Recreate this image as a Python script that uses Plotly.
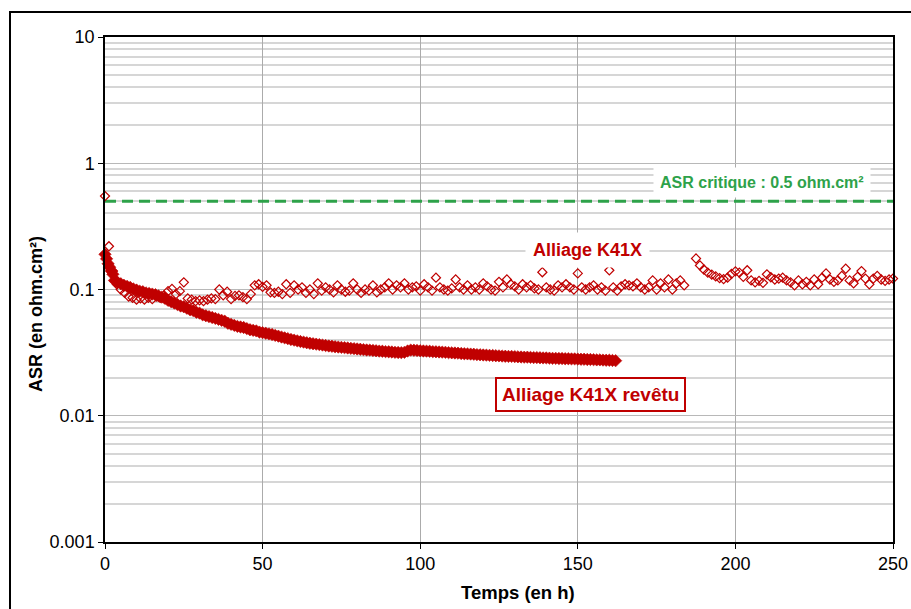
import plotly.graph_objects as go

# ---------------- data ----------------
# Alliage K41X (open diamonds) - sampled every 1.25 h, two acquisition segments
k41x_step = 1.25
k41x_seg1_start = 0.0
k41x_seg1_values = [
    0.55, 0.22, 0.14, 0.11, 0.10, 0.094, 0.088, 0.086, 0.083, 0.085,
    0.083, 0.086, 0.084, 0.088, 0.086, 0.090, 0.097, 0.101, 0.092, 0.097,
    0.114, 0.085, 0.083, 0.081, 0.082, 0.081, 0.083, 0.085, 0.084, 0.100,
    0.090, 0.096, 0.084, 0.089, 0.090, 0.087, 0.084, 0.092, 0.108, 0.110,
    0.105, 0.108, 0.095, 0.094, 0.096, 0.092, 0.110, 0.094, 0.108, 0.100,
    0.104, 0.094, 0.100, 0.092, 0.112, 0.098, 0.104, 0.100, 0.095, 0.108,
    0.100, 0.096, 0.098, 0.112, 0.100, 0.094, 0.100, 0.098, 0.108, 0.095,
    0.100, 0.104, 0.112, 0.100, 0.108, 0.104, 0.112, 0.100, 0.104, 0.106,
    0.098, 0.110, 0.104, 0.098, 0.124, 0.104, 0.100, 0.098, 0.102, 0.120,
    0.104, 0.100, 0.108, 0.100, 0.104, 0.100, 0.112, 0.106, 0.100, 0.098,
    0.115, 0.104, 0.120, 0.110, 0.106, 0.100, 0.110, 0.104, 0.108, 0.102,
    0.100, 0.137, 0.104, 0.100, 0.098, 0.108, 0.104, 0.110, 0.104, 0.100,
    0.134, 0.104, 0.100, 0.104, 0.108, 0.100, 0.104, 0.098, 0.142, 0.104,
    0.098, 0.106, 0.110, 0.108, 0.106, 0.112, 0.104, 0.100, 0.104, 0.118,
    0.100, 0.112, 0.104, 0.120, 0.100, 0.112, 0.118, 0.108,
]
k41x_seg2_start = 187.5
k41x_seg2_values = [
    0.176, 0.155, 0.144, 0.136, 0.131, 0.127, 0.123, 0.121, 0.124, 0.133,
    0.139, 0.136, 0.126, 0.142, 0.118, 0.114, 0.117, 0.113, 0.132, 0.125,
    0.120, 0.122, 0.124, 0.118, 0.114, 0.108, 0.118, 0.110, 0.115, 0.108,
    0.120, 0.110, 0.124, 0.134, 0.120, 0.115, 0.118, 0.128, 0.146, 0.118,
    0.112, 0.126, 0.140, 0.122, 0.110, 0.122, 0.128, 0.120, 0.117, 0.120,
    0.122,
]

# Alliage K41X revêtu (filled diamonds)
coated_start_hours = [0, 0.5, 1, 1.5, 2, 2.5, 3, 3.5]
coated_start_values = [0.19, 0.175, 0.16, 0.15, 0.14, 0.132, 0.118, 0.116]
coated_hourly_start = 4  # then one value per hour up to 162 h
coated_hourly_values = [
    0.114, 0.111, 0.108, 0.106, 0.104, 0.101, 0.099, 0.097, 0.096, 0.094,   # 4-13
    0.093, 0.092, 0.091, 0.089, 0.087, 0.085, 0.082, 0.080, 0.078, 0.076,   # 14-23
    0.074, 0.073, 0.071, 0.069, 0.068, 0.066, 0.065, 0.063, 0.062, 0.061,   # 24-33
    0.060, 0.059, 0.058, 0.057, 0.056, 0.054, 0.053, 0.052, 0.051, 0.0505,  # 34-43
    0.050, 0.049, 0.048, 0.0475, 0.047, 0.046, 0.0455, 0.045, 0.0445, 0.044,  # 44-53
    0.0433, 0.0427, 0.042, 0.0414, 0.0408, 0.0402, 0.0397, 0.0392, 0.0387, 0.0383,  # 54-63
    0.0379, 0.0375, 0.0372, 0.0369, 0.0366, 0.0363, 0.036, 0.0357, 0.0355, 0.0352,  # 64-73
    0.035, 0.0348, 0.0346, 0.0344, 0.0342, 0.034, 0.0338, 0.0336, 0.0334, 0.0332,  # 74-83
    0.0331, 0.0329, 0.0327, 0.0325, 0.0324, 0.0322, 0.0321, 0.032, 0.0318, 0.0317,  # 84-93
    0.0316, 0.0318, 0.0326, 0.0331, 0.033, 0.0329, 0.0327, 0.0326, 0.0325, 0.0324,  # 94-103
    0.0322, 0.0321, 0.032, 0.0319, 0.0318, 0.0316, 0.0315, 0.0314, 0.0313, 0.0311,  # 104-113
    0.031, 0.0309, 0.0308, 0.0307, 0.0305, 0.0304, 0.0303, 0.0302, 0.0301, 0.03,  # 114-123
    0.0299, 0.0298, 0.0297, 0.0296, 0.0295, 0.0295, 0.0294, 0.0293, 0.0292, 0.0291,  # 124-133
    0.0291, 0.029, 0.0289, 0.0289, 0.0288, 0.0287, 0.0287, 0.0286, 0.0285, 0.0285,  # 134-143
    0.0284, 0.0284, 0.0283, 0.0283, 0.0282, 0.0282, 0.0281, 0.028, 0.028, 0.0279,  # 144-153
    0.0279, 0.0278, 0.0277, 0.0277, 0.0276, 0.0275, 0.0275, 0.0274, 0.0273,  # 154-162
]

critical_asr = 0.5
critical_hours = [0, 250]

x_tick_values = [0, 50, 100, 150, 200, 250]
y_tick_values = [0.001, 0.01, 0.1, 1, 10]
y_tick_labels = ["0.001", "0.01", "0.1", "1", "10"]
y_minor_values = [m * 10 ** e for e in range(-3, 1) for m in range(2, 10)]

x_title = "Temps (en h)"
y_title = "ASR (en ohm.cm²)"
label_k41x = "Alliage K41X"
label_coated = "Alliage K41X revêtu"
label_critical = "ASR critique : 0.5 ohm.cm²"

# ---------------- derived arrays ----------------
k41x_hours = ([k41x_seg1_start + k41x_step * i for i in range(len(k41x_seg1_values))]
              + [None]
              + [k41x_seg2_start + k41x_step * i for i in range(len(k41x_seg2_values))])
k41x_values = k41x_seg1_values + [None] + k41x_seg2_values

coated_hours = coated_start_hours + [coated_hourly_start + i for i in range(len(coated_hourly_values))]
coated_values = coated_start_values + coated_hourly_values

RED = "#c00000"
GREEN = "#2ea24a"
FONT = "Liberation Sans, Arial, sans-serif"

W, H = 911, 609
L, R, T, B = 105, 18, 37, 67
PW, PH = W - L - R, H - T - B


def px(xp):
    return (xp - L) / PW


def py(yp):
    return (H - B - yp) / PH


fig = go.Figure()

fig.add_trace(go.Scatter(
    x=critical_hours, y=[critical_asr, critical_asr], mode="lines",
    line=dict(color=GREEN, width=3, dash="11px,6px"),
    hoverinfo="skip", showlegend=False,
))

fig.add_trace(go.Scatter(
    x=k41x_hours, y=k41x_values, mode="markers", name=label_k41x,
    marker=dict(symbol="diamond-open", size=7, color=RED, line=dict(width=1.2, color=RED)),
    cliponaxis=False, showlegend=False,
))

fig.add_trace(go.Scatter(
    x=coated_hours, y=coated_values, mode="markers", name=label_coated,
    marker=dict(symbol="diamond", size=9.5, color=RED, line=dict(width=0.6, color=RED)),
    cliponaxis=False, showlegend=False,
))

ann_common = dict(xref="paper", yref="paper", showarrow=False,
                  xanchor="center", yanchor="middle")

fig.update_layout(
    width=W, height=H,
    margin=dict(l=L, r=R, t=T, b=B, pad=0, autoexpand=False),
    paper_bgcolor="white", plot_bgcolor="white",
    font=dict(family=FONT, size=18, color="#000000"),
    showlegend=False,
    xaxis=dict(
        range=[0, 250], tickvals=x_tick_values, ticks="outside", ticklen=5,
        tickcolor="#000000", showgrid=True, gridcolor="#ababab", gridwidth=1,
        showline=True, linecolor="#000000", linewidth=1.5, mirror=True,
        zeroline=False, tickfont=dict(size=18), automargin=False,
    ),
    yaxis=dict(
        type="log", range=[-3, 1], tickvals=y_tick_values, ticktext=y_tick_labels,
        ticks="outside", ticklen=5, tickcolor="#000000",
        showgrid=True, gridcolor="#b8b8b8", gridwidth=1,
        minor=dict(tickvals=y_minor_values, showgrid=True, gridcolor="#d6d6d6",
                   gridwidth=1.5, ticks=""),
        showline=True, linecolor="#000000", linewidth=1.5, mirror=True,
        zeroline=False, tickfont=dict(size=18), automargin=False,
    ),
    shapes=[
        dict(type="rect", xref="paper", yref="paper",
             x0=px(10), x1=px(925), y0=py(625), y1=py(12),
             line=dict(color="#000000", width=2), fillcolor="rgba(0,0,0,0)", layer="above"),
    ],
    annotations=[
        dict(text=f"<b>{x_title}</b>", x=px(518), y=py(592), font=dict(size=18.5), **ann_common),
        dict(text=f"<b>{y_title}</b>", x=px(36), y=py(314), textangle=-90,
             font=dict(size=18), **ann_common),
        dict(text=f"<b>{label_k41x}</b>", x=px(587), y=py(250), bgcolor="white",
             borderpad=7, font=dict(size=18, color=RED), **ann_common),
        dict(text=f"<b>{label_coated}</b>", x=px(590), y=py(394), bgcolor="white",
             bordercolor=RED, borderwidth=2, borderpad=5, font=dict(size=19, color=RED),
             **ann_common),
        dict(text=f"<b>{label_critical}</b>", x=px(762), y=py(182), bgcolor="white",
             borderpad=6, font=dict(size=16, color=GREEN), **ann_common),
    ],
)

fig.write_html(
    "out.html",
    config={"displayModeBar": False},
    post_script="document.body.style.margin='0';document.body.style.overflow='hidden';",
)
